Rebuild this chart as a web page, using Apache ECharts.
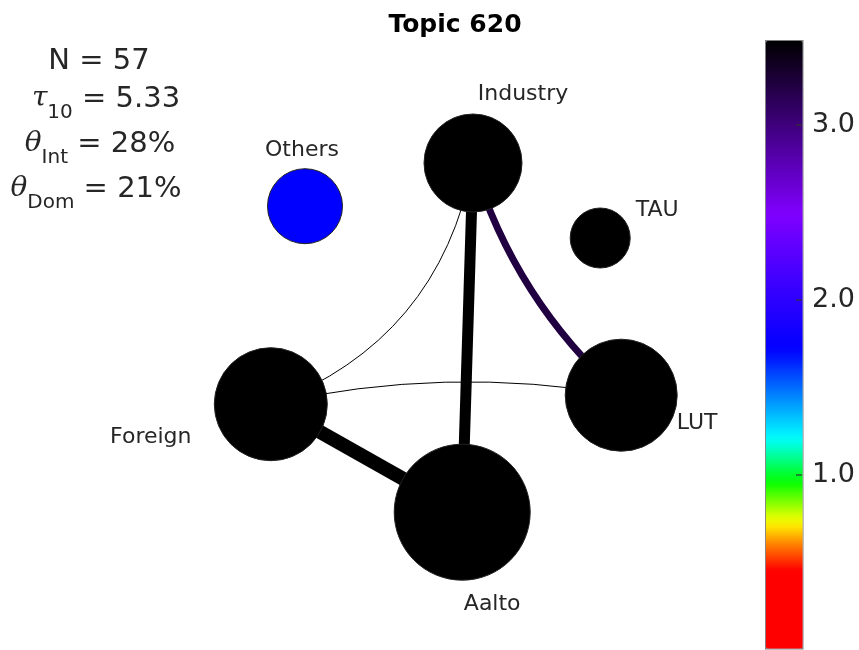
<!DOCTYPE html>
<html>
<head>
    <meta charset="utf-8">
    <title>Topic 620</title>
    <script src="https://cdn.jsdelivr.net/npm/echarts@6/dist/echarts.min.js"></script>
    <style>
        html, body { margin: 0; padding: 0; background: #fff; }
    </style>
</head>
<body>
    <div id="chart" style="width: 859px;height:650px;"></div>
    <script type="text/javascript">
        // 節點數據（佈局座標為 0-10 的抽象單位）
        var nodeNames = ['Industry', 'Others', 'TAU', 'Foreign', 'LUT', 'Aalto'];
        var nodeX = [6.05, 3.25, 8.17, 2.68, 8.52, 5.87];
        var nodeY = [7.95, 7.23, 6.70, 3.93, 4.08, 2.13];
        var nodeSize = [9.8, 7.5, 6.0, 11.3, 11.2, 13.6];
        var nodeValue = [3.5, 1.72, 3.5, 3.5, 3.5, 3.5];

        // 連線數據
        var edgeSource = ['Industry', 'Industry', 'Industry', 'Foreign', 'Foreign'];
        var edgeTarget = ['Aalto', 'LUT', 'Foreign', 'LUT', 'Aalto'];
        var edgeWeight = [11, 7, 1, 1, 14];
        var edgeValue = [3.5, 3.25, 3.5, 3.5, 3.5];

        // 色條刻度
        var colorMin = 0;
        var colorMax = 3.5;
        var colorTicks = [1, 2, 3];

        var FONT = 'DejaVu Sans';
        var TXT = '#262626';

        // 色表（近似 MATLAB 自訂色表）
        var stops = [
            [0, [255, 0, 0]], [0.45, [255, 0, 0]], [0.6, [255, 128, 0]],
            [0.73, [255, 255, 0]], [0.96, [0, 255, 0]], [1.21, [0, 255, 255]],
            [1.72, [0, 0, 255]], [2.13, [64, 0, 255]], [2.5, [128, 0, 255]],
            [3.0, [64, 0, 128]], [3.5, [0, 0, 0]]
        ];
        function colorFor(v) {
            if (v <= stops[0][0]) return 'rgb(' + stops[0][1].join(',') + ')';
            for (var i = 1; i < stops.length; i++) {
                if (v <= stops[i][0]) {
                    var a = stops[i - 1], b = stops[i];
                    var t = (v - a[0]) / (b[0] - a[0]);
                    var c = a[1].map(function (x, k) { return Math.round(x + (b[1][k] - x) * t); });
                    return 'rgb(' + c.join(',') + ')';
                }
            }
            return 'rgb(' + stops[stops.length - 1][1].join(',') + ')';
        }
        var cmap = [];
        for (var s = 0; s <= 70; s++) cmap.push(colorFor(colorMin + (colorMax - colorMin) * s / 70));

        // 標籤位置、曲率（樣式）
        var labelOffset = {
            Industry: [50, -69], Others: [-3, -56], TAU: [57, -28],
            Foreign: [-120, 33], LUT: [76, 28], Aalto: [30, 92]
        };
        var edgeCurve = [0, -0.14, 0.28, 0.1, 0];

        var nodes = nodeNames.map(function (n, i) {
            return {
                name: n,
                value: [nodeX[i], nodeY[i], nodeValue[i]],
                symbolSize: nodeSize[i] * 10,
                itemStyle: { color: colorFor(nodeValue[i]) },
                label: { offset: labelOffset[n] }
            };
        });
        var links = edgeSource.map(function (src, i) {
            return {
                source: src,
                target: edgeTarget[i],
                lineStyle: { width: edgeWeight[i], color: colorFor(edgeValue[i]), curveness: edgeCurve[i], opacity: 1 }
            };
        });

        var richMath = {
            n: { fontFamily: FONT, fontSize: 29, fill: TXT },
            g: { fontFamily: 'DejaVu Serif', fontStyle: 'italic', fontSize: 28, fill: TXT },
            s: { fontFamily: FONT, fontSize: 20, fill: TXT, padding: [28, 0, 0, 0] }
        };

        var option = {
            animation: false,
            title: {
                text: 'Topic 620', left: 450, top: 8, textAlign: 'center',
                textStyle: { fontFamily: FONT, fontSize: 25, fontWeight: 'bold', color: '#000' }
            },
            grid: [
                { left: 110, top: 40, width: 600, height: 600, outerBoundsMode: 'none' },
                { left: 765, top: 37.5, width: 37, height: 612.5, outerBoundsMode: 'none' }
            ],
            xAxis: [
                { gridIndex: 0, type: 'value', min: 0, max: 10, show: false },
                { gridIndex: 1, type: 'value', min: 0, max: 1, show: false }
            ],
            yAxis: [
                { gridIndex: 0, type: 'value', min: 0, max: 10, show: false },
                {
                    gridIndex: 1, type: 'value', position: 'right', min: colorMin, max: colorMax, interval: 1,
                    axisLine: { show: false },
                    splitLine: { show: false },
                    axisTick: { show: false },
                    axisLabel: {
                        fontFamily: FONT, fontSize: 27, color: TXT, margin: 10, padding: [4, 0, 0, 0],
                        formatter: function (v) { return colorTicks.indexOf(v) >= 0 ? v.toFixed(1) : ''; }
                    }
                }
            ],
            visualMap: {
                type: 'continuous',
                min: colorMin, max: colorMax,
                dimension: 2, seriesIndex: [],
                calculable: false, hoverLink: false,
                itemWidth: 37, itemHeight: 608,
                left: 765, top: 40, padding: 0,
                borderColor: '#808080', borderWidth: 1.5,
                text: null, showLabel: false,
                inRange: { color: cmap }
            },
            graphic: [
                { type: 'text', x: 99, y: 61, style: { text: 'N = 57', textAlign: 'center', textVerticalAlign: 'middle', font: '29px "DejaVu Sans"', fill: TXT } },
                { type: 'text', x: 106, y: 99, style: {
                    text: '{g|τ}{s|10}{n| = 5.33}', textAlign: 'center', textVerticalAlign: 'middle', rich: richMath } },
                { type: 'text', x: 100, y: 144, style: {
                    text: '{g|θ}{s|Int}{n| = 28%}', textAlign: 'center', textVerticalAlign: 'middle', rich: richMath } },
                { type: 'text', x: 96, y: 189, style: {
                    text: '{g|θ}{s|Dom}{n| = 21%}', textAlign: 'center', textVerticalAlign: 'middle', rich: richMath } }
            ],
            series: [{
                type: 'graph',
                coordinateSystem: 'cartesian2d',
                xAxisIndex: 0, yAxisIndex: 0,
                symbol: 'circle',
                data: nodes,
                links: links,
                edgeSymbol: ['none', 'none'],
                itemStyle: { borderColor: '#222', borderWidth: 1 },
                label: { show: true, position: 'inside', fontFamily: FONT, fontSize: 22, color: TXT },
                emphasis: { disabled: true },
                silent: true
            }, {
                // 色條刻度線（在色條右緣內側）
                type: 'scatter',
                xAxisIndex: 1, yAxisIndex: 1,
                data: colorTicks.map(function (t) { return [1, t]; }),
                symbol: 'rect',
                symbolSize: [6, 1.5],
                symbolOffset: [-3, 0],
                itemStyle: { color: '#333' },
                z: 10,
                silent: true
            }]
        };

        var chart = echarts.init(document.getElementById('chart'));
        chart.setOption(option);
    </script>
</body>
</html>
